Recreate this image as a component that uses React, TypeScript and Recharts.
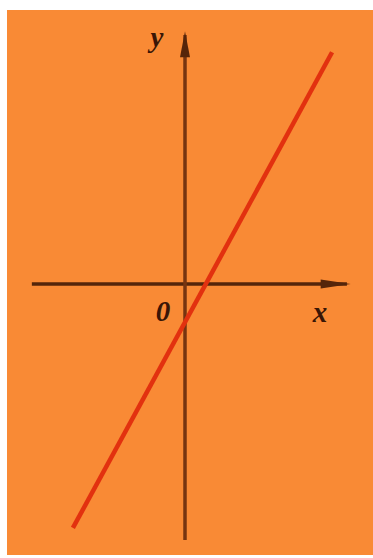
import React from 'react';
import { ComposedChart, Line, XAxis, YAxis, ReferenceDot } from 'recharts';

// Red line y ≈ 1.84x − 1 (two end points)
const lineXs = [-2.95, 3.87];
const lineYs = [-6.42, 6.1];
// Axis extents
const xAxisExtent = [-4.03, 4.26];
const yAxisExtent = [-6.74, 6.55];
// Labels
const labelTexts = ['y', '0', 'x'];

const lineData = lineXs.map((x, i) => ({ x, y: lineYs[i] }));
const xAxisData = xAxisExtent.map((x) => ({ x, y: 0 }));
const yAxisData = yAxisExtent.map((y) => ({ x: 0, y }));

const BG = '#F98A35';
const AXIS = '#55250a';
const RED = '#E2310F';

const labelStyle = {
  fontFamily: '"Liberation Serif", "DejaVu Serif", serif',
  fontStyle: 'italic',
  fontWeight: 700,
  fontSize: 29,
  fill: '#3a1606',
};

const makeText = (t: string) => (props: any) => (
  <text
    x={props.cx}
    y={props.cy}
    textAnchor="middle"
    dominantBaseline="central"
    style={labelStyle as any}
  >
    {t}
  </text>
);

export default function App() {
  return (
    <div style={{ position: 'absolute', left: 7, top: 10, width: 366, height: 545, background: BG }}>
      <ComposedChart width={366} height={545} margin={{ top: 0, right: 0, bottom: 0, left: 0 }}>
        <XAxis type="number" dataKey="x" domain={[-4.684, 4.947]} allowDataOverflow hide />
        <YAxis type="number" dataKey="y" domain={[-7.132, 7.211]} allowDataOverflow hide />
        <Line data={xAxisData} dataKey="y" stroke={AXIS} strokeWidth={3.5} dot={false} isAnimationActive={false} />
        <Line data={yAxisData} dataKey="y" stroke="#763410" strokeWidth={3.5} dot={false} isAnimationActive={false} />
        <ReferenceDot
          x={xAxisExtent[1] + 0.1}
          y={0}
          r={0}
          shape={(p: any) => (
            <polygon points={`${p.cx},${p.cy} ${p.cx - 30},${p.cy - 4.5} ${p.cx - 30},${p.cy + 4.5}`} fill={AXIS} />
          )}
        />
        <ReferenceDot
          x={0}
          y={yAxisExtent[1] + 0.1}
          r={0}
          shape={(p: any) => (
            <polygon points={`${p.cx},${p.cy} ${p.cx - 5},${p.cy + 26} ${p.cx + 5},${p.cy + 26}`} fill={AXIS} />
          )}
        />
        <Line data={lineData} dataKey="y" stroke={RED} strokeWidth={4.5} dot={false} isAnimationActive={false} />
        <ReferenceDot x={-0.74} y={6.5} r={0} shape={makeText(labelTexts[0])} />
        <ReferenceDot x={-0.58} y={-0.7} r={0} shape={makeText(labelTexts[1])} />
        <ReferenceDot x={3.55} y={-0.74} r={0} shape={makeText(labelTexts[2])} />
      </ComposedChart>
    </div>
  );
}
